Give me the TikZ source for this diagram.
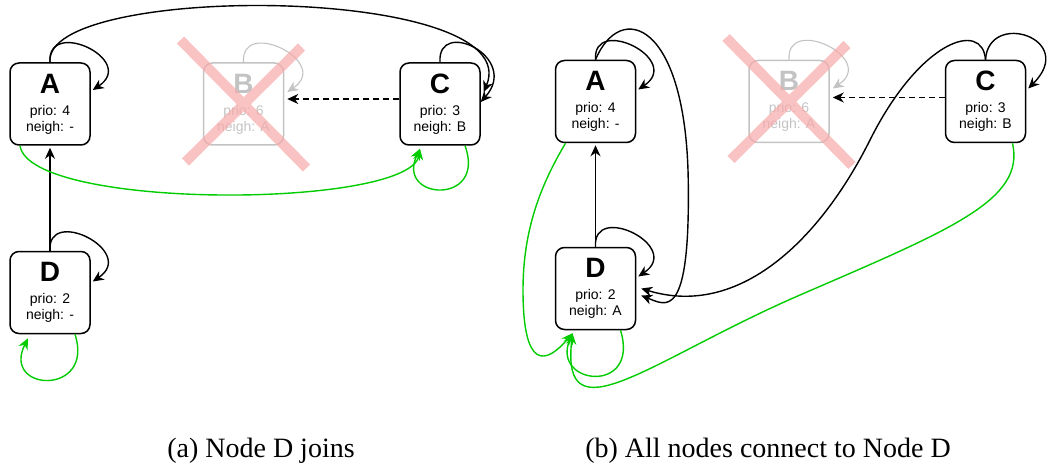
\documentclass[tikz,border=0pt]{standalone}
\usepackage{fontspec}
\setmainfont{Liberation Serif}
\setsansfont{Liberation Sans}
\usetikzlibrary{arrows.meta,calc}
\definecolor{G}{RGB}{0,204,0}
\definecolor{X}{RGB}{248,170,170}
\definecolor{Gr}{RGB}{195,195,195}

\newcommand{\peertext}[3]{{\fontsize{28}{28}\selectfont\bfseries #1}\\[6pt]prio: #2\\neigh: #3}

\tikzset{
  peer/.style={draw, line width=1.5pt, rounded corners=9pt, minimum width=80pt,
    minimum height=82pt, align=center, font=\sffamily\fontsize{14}{16}\selectfont},
  gone/.style={peer, draw=Gr, text=Gr},
  tip/.style={-{Stealth[length=11pt,width=10pt,inset=3.5pt]}},
  link/.style={line width=1.4pt, tip},
  glink/.style={link, draw=G, -{Stealth[length=11pt,width=10pt,inset=3.5pt,fill=G]}},
  cross/.style={draw=X, line width=10pt, opacity=0.7},
  caption/.style={font=\fontsize{28}{30}\selectfont, anchor=base}
}

\begin{document}
\begin{tikzpicture}[x=1pt,y=-1pt]
  \useasboundingbox (0,0) rectangle (1048,470);

  % (a) -------------------------------------------------
  \node[peer] (A1) at (50,104) {\peertext{A}{4}{-}};
  \node[gone] (B1) at (243.5,104) {\peertext{B}{6}{A}};
  \node[peer] (C1) at (440,104) {\peertext{C}{3}{B}};
  \node[peer] (D1) at (50,292.5) {\peertext{D}{2}{-}};

  \draw[link] (A1.north) .. controls +(-3,-45) and +(45,-30) .. ($(A1.east)+(2,-14)$);
  \draw[link] (A1.north) .. controls +(-8,-80) and +(45,-108) .. ($(C1.east)+(3,-12)$);
  \draw[link] (C1.north) .. controls +(-3,-45) and +(40,-45) .. ($(C1.east)+(0,-2)$);
  \draw[link, dash pattern=on 6pt off 4pt] ($(C1.west)+(0,-5)$) -- ($(B1.east)+(3,-5)$);
  \draw[link, draw=Gr, line width=1.1pt] (B1.north) .. controls +(-3,-45) and +(45,-30) .. ($(B1.east)+(3,-12)$);
  \draw[link] (D1.north) -- ($(A1.south)+(0,2)$);
  \draw[link] (D1.north) .. controls +(-3,-45) and +(45,-30) .. ($(D1.east)+(2,-11)$);
  \draw[glink] ($(A1.south)+(-30,0)$) .. controls +(10,65) and +(-10,60) .. ($(C1.south)+(-20,3)$);
  \draw[glink] ($(C1.south)+(25,0)$) .. controls +(22,60) and +(-25,52) .. ($(C1.south)+(-20,3)$);
  \draw[glink] ($(D1.south)+(25,0)$) .. controls +(20,62) and +(-27,54) .. ($(D1.south)+(-22,4)$);

  % (b) -------------------------------------------------
  \node[peer] (A2) at (595.5,101.5) {\peertext{A}{4}{-}};
  \node[gone] (B2) at (789,101.5) {\peertext{B}{6}{A}};
  \node[peer] (C2) at (985.5,101.5) {\peertext{C}{3}{B}};
  \node[peer] (D2) at (595.5,288.5) {\peertext{D}{2}{A}};
  \coordinate (abend) at (523,290);
  \coordinate (cbend) at (870,140);
  \coordinate (gbend) at (800,295);

  \draw[link] (A2.north) .. controls +(-3,-45) and +(45,-30) .. ($(A2.east)+(2,-12)$);
  \draw[link] (A2.north) .. controls +(25,-60) and +(-2,-160) .. ($(A2.east)+(52,80)$)
    .. controls +(2,140) and +(25,10) .. ($(D2.east)+(5,7)$);
  \draw[link] (C2.north) .. controls +(-3,-40) and +(50,-100) .. (cbend)
    .. controls +(-50,100) and +(98,30) .. ($(D2.east)+(5,0)$);
  \draw[link] (C2.north) .. controls +(3,-50) and +(50,-50) .. ($(C2.east)+(2,-13)$);
  \draw[link, dash pattern=on 6pt off 4pt] ($(C2.west)+(0,-4)$) -- ($(B2.east)+(3,-4)$);
  \draw[link, draw=Gr, line width=1.1pt] (B2.north) .. controls +(-3,-45) and +(45,-30) .. ($(B2.east)+(3,-13)$);
  \draw[link] (D2.north) -- ($(A2.south)+(0,2)$);
  \draw[link] (D2.north) .. controls +(-3,-45) and +(45,-30) .. ($(D2.east)+(2,-12)$);
  \draw[glink] ($(A2.south)+(-30,0)$) .. controls +(-25,42) and +(0,-60) .. (abend)
    .. controls +(0,80) and +(-27,32) .. ($(D2.south)+(-23,3)$);
  \draw[glink] ($(D2.south)+(25,0)$) .. controls +(20,65) and +(-22,52) .. ($(D2.south)+(-23,3)$);
  \draw[glink] ($(C2.south)+(27,0)$) .. controls +(13,57) and +(150,-65) .. (gbend)
    .. controls +(-150,65) and +(-12,107) .. ($(D2.south)+(-23,3)$);

  % crossed out peer
  \foreach \b in {B1,B2}{
    \draw[cross] ($(\b)+(-63,-64)$) -- ($(\b)+(63,64)$)
                 ($(\b)+(-58,58)$) -- ($(\b)+(58,-57)$);
  }

  \node[caption] (capa) at (261,457) {(a) Node D joins};
  \node[caption] (capb) at (768,457) {(b) All nodes connect to Node D};
\end{tikzpicture}
\end{document}
